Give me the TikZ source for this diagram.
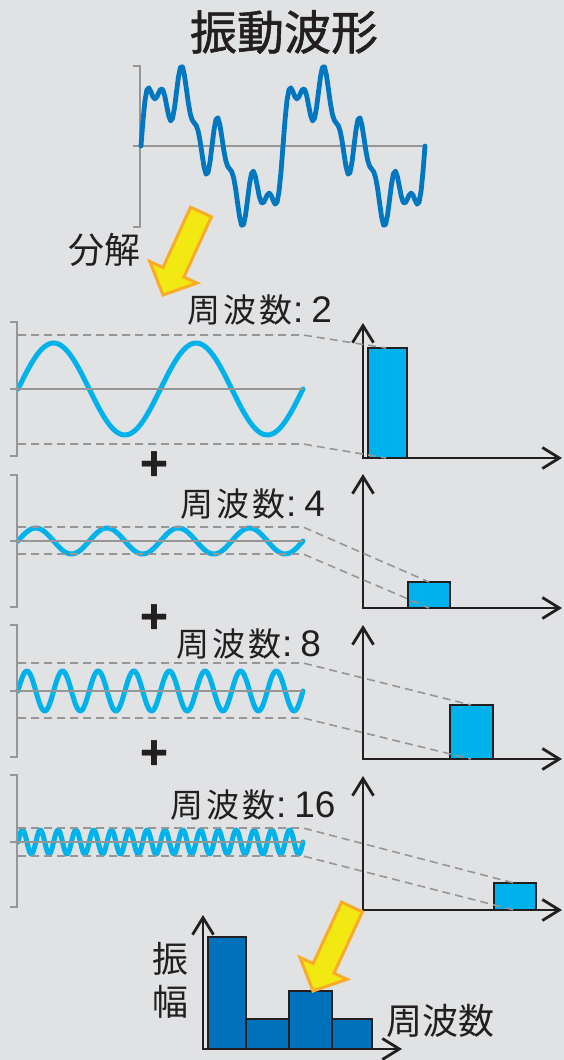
\documentclass[tikz,border=0pt]{standalone}
\usepackage{fontspec}
\setmainfont{Noto Sans CJK JP}
\newfontfamily\titlecjk[FakeBold=1.2]{Noto Sans CJK JP}
\newfontfamily\spacedcjk[LetterSpace=9]{Noto Sans CJK JP}
\newfontfamily\latin{Liberation Sans}
\usetikzlibrary{arrows.meta,calc}

\definecolor{bg}{RGB}{225,226,228}
\definecolor{ink}{RGB}{35,31,32}
\definecolor{wavedark}{RGB}{0,119,192}
\definecolor{wavelight}{RGB}{0,178,235}
\definecolor{guide}{RGB}{150,150,150}
\definecolor{arrowfill}{RGB}{242,232,18}
\definecolor{arrowedge}{RGB}{248,172,40}
\definecolor{bardark}{RGB}{0,114,188}

\newcommand\titlefont{\fontsize{47}{47}\selectfont\titlecjk}
\newcommand\lblfont{\fontsize{33}{33}\selectfont\spacedcjk}
\newcommand\lblnum[1]{{\fontsize{37}{37}\selectfont\latin\kern1pt:\kern8pt#1}}
\newcommand\bigfont{\fontsize{36}{43}\selectfont}
\newcommand\plusfont{\fontsize{46}{46}\selectfont\bfseries}

\newcommand\fatarrow[2]{%
  \coordinate (#1b) at ($(#2)!25pt!(#1)$);
  \draw[fatarrowstyle]
    ($(#1)!11.5pt!90:(#2)$) -- ($(#1b)!11.5pt!-90:(#1)$) --
    ($(#1b)!26pt!-90:(#1)$) -- (#2) --
    ($(#1b)!26pt!90:(#1)$) -- ($(#1b)!11.5pt!90:(#1)$) --
    ($(#1)!11.5pt!-90:(#2)$) -- cycle;
}

\begin{document}
\begin{tikzpicture}[x=1pt,y=-1pt,
  txt/.style={inner sep=0pt, text=ink},
  bracketline/.style={draw=guide, line width=1.5pt},
  dashconn/.style={draw=guide, line width=1.6pt, dash pattern=on 8pt off 5pt},
  wavelightline/.style={draw=wavelight, line width=5pt, line cap=round, line join=round},
  wavedarkline/.style={draw=wavedark, line width=4.8pt, line cap=round, line join=round},
  axes/.style={draw=ink, line width=2.8pt, {Straight Barb[length=17pt,width=21pt]}-{Straight Barb[length=17pt,width=21pt]}},
  barlight/.style={fill=wavelight, draw=ink, line width=2.2pt},
  bardarkst/.style={fill=bardark, draw=ink, line width=2.2pt},
  fatarrowstyle/.style={fill=arrowfill, draw=arrowedge, line width=3pt, line join=miter},
]
\fill[bg] (0,0) rectangle (564,1060);
\useasboundingbox (0,0) rectangle (564,1060);

% ---------- title and composite waveform ----------
\node[txt, font=\titlefont] (title) at (284,32) {振動波形};
\draw[bracketline] (133,66) -- (140,66) -- (140,227) -- (133,227);
\draw[bracketline] (133,146) -- (425,146);
\draw[wavedarkline] plot[domain=0:360, samples=145]
  ({141+\x/360*284},{146-54*(sin(2*\x)+0.28*sin(4*\x)+0.47*sin(8*\x)+0.27*sin(16*\x))});

\node[txt, font=\bigfont] (decomp) at (104,250) {分解};
\coordinate (a1) at (201,212);
\coordinate (a1tip) at (163,295);
\fatarrow{a1}{a1tip}

% ---------- component 1 (frequency 2) ----------
\draw[wavelightline] plot[domain=0:360, samples=120] ({18+\x/360*285},{389-46*sin(2*\x)});
\draw[bracketline] (10,322) -- (17,322) -- (17,456) -- (10,456);
\draw[bracketline] (10,389) -- (303,389);
\node[txt, font=\lblfont, anchor=base west] (lbl2) at (187,322) {周波数\lblnum{2}};
\draw[axes] (363,323) |- (562,458);
\draw[barlight] (368,348) rectangle (407,458);
\coordinate (u1) at (303,335); \coordinate (l1) at (303,444);
\coordinate (bt1) at (386,348); \coordinate (bb1) at (386,458);
\draw[dashconn] (18,335) -- (u1) -- (bt1);
\draw[dashconn] (18,444) -- (l1) -- (bb1);
\node[txt, font=\plusfont] (plus1) at (155,467) {+};

% ---------- component 2 (frequency 4) ----------
\draw[wavelightline] plot[domain=0:360, samples=160] ({18+\x/360*285},{541-13*sin(4*\x)});
\draw[bracketline] (10,475) -- (17,475) -- (17,607) -- (10,607);
\draw[bracketline] (10,541) -- (303,541);
\node[txt, font=\lblfont, anchor=base west] (lbl4) at (180,516) {周波数\lblnum{4}};
\draw[axes] (363,474) |- (562,608);
\draw[barlight] (408,582) rectangle (450,608);
\coordinate (u2) at (303,527); \coordinate (l2) at (303,554);
\coordinate (bt2) at (429,582); \coordinate (bb2) at (429,608);
\draw[dashconn] (18,527) -- (u2) -- (bt2);
\draw[dashconn] (18,554) -- (l2) -- (bb2);
\node[txt, font=\plusfont] (plus2) at (155,620) {+};

% ---------- component 3 (frequency 8) ----------
\draw[wavelightline] plot[domain=0:360, samples=240] ({18+\x/360*285},{691-20*sin(8*\x)});
\draw[bracketline] (10,625) -- (17,625) -- (17,757) -- (10,757);
\draw[bracketline] (10,691) -- (303,691);
\node[txt, font=\lblfont, anchor=base west] (lbl8) at (176,656) {周波数\lblnum{8}};
\draw[axes] (363,625) |- (562,759);
\draw[barlight] (450,705) rectangle (493,759);
\coordinate (u3) at (303,663); \coordinate (l3) at (303,718);
\coordinate (bt3) at (471,705); \coordinate (bb3) at (471,759);
\draw[dashconn] (18,663) -- (u3) -- (bt3);
\draw[dashconn] (18,718) -- (l3) -- (bb3);
\node[txt, font=\plusfont] (plus3) at (155,756) {+};

% ---------- component 4 (frequency 16) ----------
\draw[wavelightline] plot[domain=0:360, samples=400] ({18+\x/360*285},{842-12*sin(16*\x)});
\draw[bracketline] (10,775) -- (17,775) -- (17,907) -- (10,907);
\draw[bracketline] (10,842) -- (303,842);
\node[txt, font=\lblfont, anchor=base west] (lbl16) at (170,817) {周波数\lblnum{16}};
\draw[axes] (363,776) |- (562,910);
\draw[barlight] (494,883) rectangle (536,910);
\coordinate (u4) at (303,828); \coordinate (l4) at (303,856);
\coordinate (bt4) at (514,883); \coordinate (bb4) at (514,910);
\draw[dashconn] (18,828) -- (u4) -- (bt4);
\draw[dashconn] (18,856) -- (l4) -- (bb4);

% ---------- spectrum ----------
\draw[axes] (203,915) |- (402,1049);
\draw[bardarkst] (208,937) rectangle (246,1049);
\draw[bardarkst] (246,1019) rectangle (289,1049);
\draw[bardarkst] (289,991) rectangle (332,1049);
\draw[bardarkst] (332,1019) rectangle (372,1049);
\node[txt, font=\bigfont, align=center] (amp) at (170,980) {振\\幅};
\node[txt, font=\bigfont] (freq) at (440,1021) {周波数};
\coordinate (a2) at (352,907);
\coordinate (a2tip) at (313,991);
\fatarrow{a2}{a2tip}
\end{tikzpicture}
\end{document}
